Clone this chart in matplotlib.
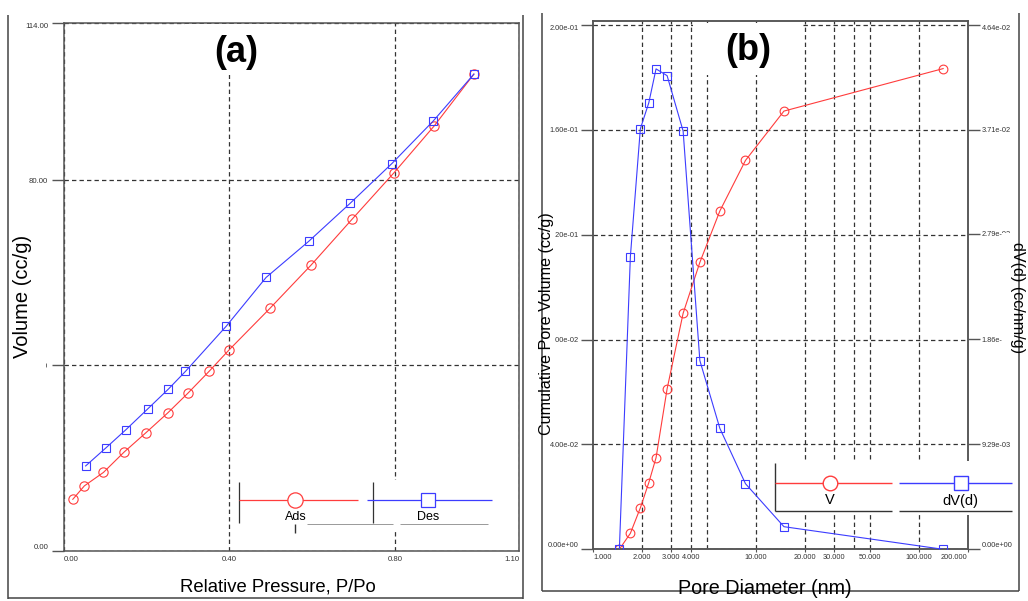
import matplotlib
matplotlib.use('Agg')
import matplotlib.pyplot as plt
from matplotlib.lines import Line2D
from matplotlib.patches import Rectangle
from matplotlib.ticker import FixedLocator, NullFormatter

# ---------------- data: panel (a) isotherm ----------------
P_ads = [0.022, 0.050, 0.096, 0.146, 0.199, 0.252, 0.300, 0.351, 0.399,
         0.498, 0.598, 0.697, 0.798, 0.895, 0.991]
V_ads = [11.1, 14.0, 16.9, 21.3, 25.5, 29.8, 34.0, 38.7, 43.3,
         52.3, 61.7, 71.6, 81.6, 91.7, 102.9]
P_des = [0.053, 0.102, 0.150, 0.204, 0.253, 0.294, 0.393, 0.489, 0.592,
         0.692, 0.793, 0.892, 0.991]
V_des = [18.3, 22.2, 26.1, 30.7, 34.9, 38.7, 48.5, 59.0, 66.8,
         75.0, 83.6, 92.7, 102.9]
a_xticks = [0.0, 0.4, 0.8, 1.1]
a_xlabels = ['0.00', '0.40', '0.80', '1.10']
a_yticks = [0, 40, 80, 114]
a_ylabels = ['0.00', '40.00', '80.00', '114.00']

# ---------------- data: panel (b) pore size distribution ----------------
D_nm = [1.446, 1.690, 1.946, 2.193, 2.43, 2.842, 3.565, 4.517, 5.995,
        8.618, 14.85, 141.3]
V_cum = [0.0, 0.0061, 0.0158, 0.0254, 0.0349, 0.0612, 0.0900, 0.1094,
         0.1290, 0.1483, 0.1671, 0.1833]
dV_d = [0.0, 0.0259, 0.0372, 0.0395, 0.0425, 0.0419, 0.0370, 0.0167,
        0.0107, 0.0058, 0.0020, 0.0]
b_xticks = [1, 2, 3, 4, 10, 20, 30, 50, 100, 200]
b_xlabels = ['1.000', '2.000', '3.000', '4.000', '10.000', '20.000',
             '30.000', '50.000', '100.000', '200.000']
b_xgrid = [2, 3, 4, 5, 10, 20, 30, 40, 50, 100]
b_yticks = [0.0, 0.04, 0.08, 0.12, 0.16, 0.20]
b_ylabels = ['0.00e+00', '4.00e-02', '8.00e-02', '1.20e-01', '1.60e-01', '2.00e-01']
b_y2ticks = [0.0, 0.00929, 0.0186, 0.0279, 0.0371, 0.0464]
b_y2labels = ['0.00e+00', '9.29e-03', '1.86e-02', '2.79e-02', '3.71e-02', '4.64e-02']

# ---------------- figure setup ----------------
W, H = 1028, 601
fig = plt.figure(figsize=(W / 100, H / 100), dpi=100)
plt.rcParams['font.family'] = ['Liberation Sans', 'DejaVu Sans']


def fx(x):
    return x / W


def fy(y):
    return 1 - y / H


def axes_px(l, t, r, b):
    return fig.add_axes([fx(l), fy(b), (r - l) / W, (b - t) / H])


RED = '#ff3c3c'
BLUE = '#3c3cff'
SPINE = '#555555'
TICKC = '#333333'
GRID = dict(color='#333333', linewidth=0.9, linestyle=(0, (3.5, 2.5)))


def style_spines(ax):
    for s in ax.spines.values():
        s.set_color(SPINE)
        s.set_linewidth(1.1)


# ---------------- panel (a) ----------------
axA = axes_px(63.7, 22.7, 519, 550.7)
axA.plot(P_ads, V_ads, color=RED, lw=0.8, marker='o', ms=6.7, mfc='none',
         mec=RED, mew=0.8, zorder=3)
axA.plot(P_des, V_des, color=BLUE, lw=0.8, marker='s', ms=6.3, mfc='none',
         mec=BLUE, mew=0.8, zorder=3)
axA.set_xlim(0, 1.1)
axA.set_ylim(0, 114)
axA.set_xticks(a_xticks, labels=a_xlabels)
axA.set_yticks(a_yticks, labels=a_ylabels)
axA.grid(True, **GRID)
axA.set_axisbelow(True)
axA.tick_params(axis='y', direction='out', length=8.6, width=1.0, color=SPINE,
                pad=2.5, labelsize=5.6, labelcolor=TICKC)
axA.tick_params(axis='x', length=0, pad=3.5, labelsize=5.6, labelcolor=TICKC)
style_spines(axA)
xl = axA.get_xticklabels()
xl[0].set_ha('left')
xl[-1].set_ha('right')
yl = axA.get_yticklabels()
yl[0].set_va('bottom')
yl[-1].set_va('top')

# ---------------- panel (b) ----------------
axB = axes_px(593.3, 20.7, 967.7, 549.3)
axB.set_xscale('log')
axB.plot(D_nm, V_cum, color=RED, lw=0.8, marker='o', ms=6.3, mfc='none',
         mec=RED, mew=0.8, zorder=3)
axB.set_xlim(1, 200)
axB.set_ylim(0, 0.2 * 528.6 / 524.5)
axB.set_xticks(b_xticks, labels=b_xlabels)
axB.xaxis.set_minor_locator(FixedLocator(b_xgrid))
axB.xaxis.set_minor_formatter(NullFormatter())
axB.xaxis.remove_overlapping_locs = False
axB.set_yticks(b_yticks, labels=b_ylabels)
axB.grid(True, which='minor', axis='x', **GRID)
axB.grid(True, which='major', axis='y', **GRID)
axB.set_axisbelow(True)
axB.tick_params(axis='x', which='major', length=2.4, width=0.8, color=SPINE,
                pad=1.2, labelsize=5.3, labelcolor=TICKC)
axB.tick_params(axis='x', which='minor', length=0)
axB.tick_params(axis='y', length=8.4, width=1.0, color=SPINE, pad=2.0,
                labelsize=5.3, labelcolor=TICKC)
style_spines(axB)
xl = axB.get_xticklabels()
xl[0].set_ha('left')
xl[-1].set_ha('right')
yl = axB.get_yticklabels()
yl[0].set_va('bottom')
yl[-1].set_va('top')

axB2 = axB.twinx()
axB2.plot(D_nm, dV_d, color=BLUE, lw=0.8, marker='s', ms=6.0, mfc='none',
          mec=BLUE, mew=0.8, zorder=3)
axB2.set_ylim(0, 0.0464 * 528.6 / 524.5)
axB2.set_yticks(b_y2ticks, labels=b_y2labels)
axB2.tick_params(axis='y', length=8.4, width=1.0, color=SPINE, pad=1.7,
                 labelsize=5.3, labelcolor=TICKC)
style_spines(axB2)
yl = axB2.get_yticklabels()
yl[0].set_va('bottom')
yl[-1].set_va('top')


# ---------------- decorations (figure-level, pixel placement) ----------------
def fline(xs, ys, color='#444444', lw=1.1, z=6):
    fig.add_artist(Line2D([fx(v) for v in xs], [fy(v) for v in ys],
                          transform=fig.transFigure, color=color, lw=lw,
                          zorder=z, solid_capstyle='butt'))


def fbox(l, t, r, b, z=5):
    fig.add_artist(Rectangle((fx(l), fy(b)), (r - l) / W, (b - t) / H,
                             transform=fig.transFigure, fc='white',
                             ec='none', zorder=z))


def ftext(x, y, s, size, z=7, **kw):
    fig.text(fx(x), fy(y), s, fontsize=size, ha='center', va='center',
             zorder=z, **kw)


# outer frames
fline([8, 8], [15, 598.5])
fline([523.3, 523.3], [15, 598.5])
fline([8, 523.3], [598, 598])
fline([541.7, 541.7], [13, 591])
fline([1019, 1019], [13, 591])
fline([541.7, 1019], [590.5, 590.5])

# title boxes
fbox(185, 24.5, 290, 75)
ftext(236, 52, '(a)', 26, fontweight='bold')
fbox(693, 23, 803, 75)
ftext(748, 50, '(b)', 26, fontweight='bold')

# axis labels (with white boxes breaking the frame)
fbox(0, 225, 46, 370)
ftext(23, 296, 'Volume (cc/g)', 14.5, rotation=90)
fbox(175, 575, 389, 601)
ftext(278, 587, 'Relative Pressure, P/Po', 13.3)
fbox(533, 207, 555, 440)
ftext(547, 323.5, 'Cumulative Pore Volume (cc/g)', 11.6, rotation=90)
fbox(1001.7, 233, 1028, 373)
ftext(1018, 297.5, 'dV(d) (cc/nm/g)', 11.6, rotation=270)
fbox(675, 575, 858, 601)
ftext(765, 589, 'Pore Diameter (nm)', 14.2)

# legend (a)
fbox(238, 480, 493, 531)
fline([239.3, 239.3], [481.7, 523.3], color='#333333', lw=0.9, z=6)
fline([372.7, 372.7], [481.7, 523.3], color='#333333', lw=0.9, z=6)
fline([239.3, 358.3], [500, 500], color=RED, lw=0.9, z=6)
fline([366.7, 491.7], [500, 500], color=BLUE, lw=0.9, z=6)
fig.add_artist(Line2D([fx(295.3)], [fy(500)], transform=fig.transFigure,
                      marker='o', ms=11, mfc='white', mec=RED, mew=0.9, zorder=7))
fig.add_artist(Line2D([fx(428)], [fy(500)], transform=fig.transFigure,
                      marker='s', ms=10, mfc='white', mec=BLUE, mew=0.9, zorder=7))
ftext(295.5, 516.5, 'Ads', 9)
ftext(428.3, 516.5, 'Des', 9)
fline([307.3, 393.3], [524, 524], color='#999999', lw=0.7, z=6)
fline([400, 488.3], [524, 524], color='#999999', lw=0.7, z=6)
fline([295, 295], [524, 533], color='#333333', lw=1.0, z=6)

# legend (b)
fbox(774, 461, 1013, 515)
fline([775, 775], [463, 510.7], color='#333333', lw=1.0, z=6)
fline([775, 891.7], [482.7, 482.7], color=RED, lw=1.0, z=6)
fline([899, 1011.7], [482.7, 482.7], color=BLUE, lw=1.0, z=6)
fline([775, 891.7], [510.7, 510.7], color='#333333', lw=1.0, z=6)
fline([899, 1011.7], [510.7, 510.7], color='#333333', lw=1.0, z=6)
fig.add_artist(Line2D([fx(830)], [fy(482.7)], transform=fig.transFigure,
                      marker='o', ms=10.5, mfc='white', mec=RED, mew=1.0, zorder=7))
fig.add_artist(Line2D([fx(960.7)], [fy(482.7)], transform=fig.transFigure,
                      marker='s', ms=10, mfc='white', mec=BLUE, mew=1.0, zorder=7))
ftext(830, 500.5, 'V', 10.5)
ftext(960.5, 501, 'dV(d)', 10.5)

fig.savefig('out.png', dpi=100)
